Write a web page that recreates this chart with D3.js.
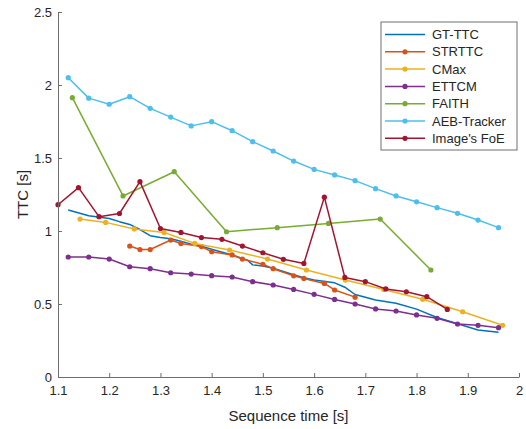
<!DOCTYPE html>
<html>
<head>
<meta charset="utf-8">
<script src="https://cdn.jsdelivr.net/npm/d3@7"></script>
<style>
  body { margin: 0; background: #fff; }
  svg { display: block; font-family: 'Liberation Sans', Arial, sans-serif; }
</style>
</head>
<body>
<svg id="chart"></svg>
<script>
// Series values (x = sequence time [s], y = TTC [s])
const gtX = [1.12, 1.16, 1.20, 1.22, 1.24, 1.26, 1.28, 1.30, 1.32, 1.34, 1.36, 1.38, 1.40, 1.44, 1.47, 1.48, 1.50, 1.52, 1.56, 1.58, 1.60, 1.64, 1.66, 1.68, 1.72, 1.76, 1.80, 1.84, 1.88, 1.92, 1.96];
const gtY = [1.144, 1.105, 1.085, 1.064, 1.045, 1.01, 0.968, 0.955, 0.947, 0.93, 0.91, 0.895, 0.875, 0.836, 0.80, 0.768, 0.76, 0.745, 0.70, 0.68, 0.665, 0.645, 0.615, 0.565, 0.527, 0.505, 0.465, 0.408, 0.365, 0.322, 0.306];

const strX = [1.24, 1.26, 1.28, 1.32, 1.34, 1.38, 1.40, 1.44, 1.46, 1.50, 1.52, 1.56, 1.58, 1.62, 1.64, 1.68];
const strY = [0.897, 0.873, 0.873, 0.938, 0.914, 0.893, 0.858, 0.836, 0.808, 0.772, 0.742, 0.693, 0.675, 0.641, 0.596, 0.547];

const cmaxX = [1.143, 1.193, 1.249, 1.307, 1.367, 1.435, 1.509, 1.585, 1.661, 1.736, 1.812, 1.89, 1.968];
const cmaxY = [1.082, 1.059, 1.014, 0.99, 0.915, 0.87, 0.808, 0.733, 0.664, 0.60, 0.532, 0.447, 0.354];

const ettcmX = [1.12, 1.16, 1.20, 1.24, 1.28, 1.32, 1.36, 1.40, 1.44, 1.48, 1.52, 1.56, 1.60, 1.64, 1.68, 1.72, 1.76, 1.80, 1.84, 1.88, 1.92, 1.96];
const ettcmY = [0.822, 0.822, 0.808, 0.755, 0.742, 0.714, 0.705, 0.694, 0.685, 0.653, 0.630, 0.600, 0.566, 0.531, 0.500, 0.466, 0.452, 0.425, 0.402, 0.363, 0.354, 0.338];

const faithX = [1.128, 1.227, 1.327, 1.429, 1.528, 1.628, 1.729, 1.828];
const faithY = [1.913, 1.24, 1.406, 0.995, 1.023, 1.052, 1.082, 0.733];

const aebX = [1.12, 1.16, 1.20, 1.24, 1.28, 1.32, 1.36, 1.40, 1.44, 1.48, 1.52, 1.56, 1.60, 1.64, 1.68, 1.72, 1.76, 1.80, 1.84, 1.88, 1.92, 1.96];
const aebY = [2.05, 1.91, 1.868, 1.92, 1.84, 1.78, 1.72, 1.749, 1.687, 1.612, 1.548, 1.479, 1.422, 1.384, 1.345, 1.29, 1.24, 1.20, 1.16, 1.121, 1.075, 1.023];

const foeX = [1.10, 1.14, 1.18, 1.22, 1.26, 1.30, 1.34, 1.38, 1.42, 1.46, 1.50, 1.54, 1.58, 1.62, 1.66, 1.70, 1.74, 1.78, 1.82, 1.86];
const foeY = [1.18, 1.297, 1.098, 1.12, 1.338, 1.017, 0.99, 0.955, 0.943, 0.897, 0.851, 0.806, 0.778, 1.232, 0.682, 0.653, 0.603, 0.584, 0.55, 0.463];

const xTicks = [1.1, 1.2, 1.3, 1.4, 1.5, 1.6, 1.7, 1.8, 1.9, 2];
const yTicks = [0, 0.5, 1, 1.5, 2, 2.5];

// Series definitions (name, data, colour, markers?)
const series = [
  { name: 'GT-TTC', x: gtX, y: gtY, color: '#0072BD', marker: false },
  { name: 'STRTTC', x: strX, y: strY, color: '#D95319', marker: true },
  { name: 'CMax', x: cmaxX, y: cmaxY, color: '#EDB120', marker: true },
  { name: 'ETTCM', x: ettcmX, y: ettcmY, color: '#7E2F8E', marker: true },
  { name: 'FAITH', x: faithX, y: faithY, color: '#77AC30', marker: true },
  { name: 'AEB-Tracker', x: aebX, y: aebY, color: '#4DBEEE', marker: true },
  { name: "Image's FoE", x: foeX, y: foeY, color: '#A2142F', marker: true },
];

const W = 526;
const H = 429;
const margin = { top: 12, right: 7, bottom: 52, left: 58 };
const width = W - margin.left - margin.right;
const height = H - margin.top - margin.bottom;

const svg = d3.select('#chart').attr('width', W).attr('height', H);
const g = svg.append('g').attr('transform', `translate(${margin.left},${margin.top})`);

const xScale = d3.scaleLinear().domain([1.1, 2]).range([0, width]);
const yScale = d3.scaleLinear().domain([0, 2.5]).range([height, 0]);

// Lines and markers
const line = d3.line().x((d) => xScale(d[0])).y((d) => yScale(d[1]));

series.forEach((s) => {
  const pts = s.x.map((v, i) => [v, s.y[i]]);
  g.append('path')
    .datum(pts)
    .attr('fill', 'none')
    .attr('stroke', s.color)
    .attr('stroke-width', 1.5)
    .attr('stroke-linejoin', 'round')
    .attr('d', line);
  if (s.marker) {
    g.append('g')
      .selectAll('circle')
      .data(pts)
      .enter()
      .append('circle')
      .attr('cx', (d) => xScale(d[0]))
      .attr('cy', (d) => yScale(d[1]))
      .attr('r', 2.6)
      .attr('fill', s.color);
  }
});

// Axes (MATLAB style: ticks pointing inward, no box)
const axisColor = '#6e6e6e';
const textColor = '#262626';

const xAxisGroup = g.append('g')
  .attr('transform', `translate(0,${height})`)
  .call(d3.axisBottom(xScale).tickValues(xTicks).tickFormat(d3.format('')).tickSizeInner(-4).tickSizeOuter(0).tickPadding(9));

const yAxisGroup = g.append('g')
  .call(d3.axisLeft(yScale).tickValues(yTicks).tickFormat(d3.format('')).tickSizeInner(-4).tickSizeOuter(0).tickPadding(6));

[xAxisGroup, yAxisGroup].forEach((ax) => {
  ax.select('.domain').attr('stroke', axisColor);
  ax.selectAll('.tick line').attr('stroke', axisColor);
  ax.selectAll('.tick text').attr('fill', textColor).style('font-size', '13px');
});

// Axis labels
g.append('text')
  .attr('x', width / 2)
  .attr('y', height + 44)
  .attr('text-anchor', 'middle')
  .attr('fill', textColor)
  .style('font-size', '15px')
  .text('Sequence time [s]');

g.append('text')
  .attr('transform', `translate(${-30},${height / 2}) rotate(-90)`)
  .attr('text-anchor', 'middle')
  .attr('fill', textColor)
  .style('font-size', '15px')
  .text('TTC [s]');

// Legend
const legend = svg.append('g').attr('transform', 'translate(381,22)');
legend.append('rect')
  .attr('width', 136)
  .attr('height', 128)
  .attr('fill', '#fff')
  .attr('stroke', axisColor)
  .attr('stroke-width', 1);

series.forEach((s, i) => {
  const yy = 12.5 + i * 17.3;
  const row = legend.append('g').attr('transform', `translate(0,${yy})`);
  row.append('line')
    .attr('x1', 4).attr('x2', 44)
    .attr('stroke', s.color)
    .attr('stroke-width', 1.5);
  if (s.marker) {
    row.append('circle').attr('cx', 24).attr('r', 2.6).attr('fill', s.color);
  }
  row.append('text')
    .attr('x', 51)
    .attr('dy', '0.35em')
    .attr('fill', textColor)
    .style('font-size', '13px')
    .text(s.name);
});
</script>
</body>
</html>
